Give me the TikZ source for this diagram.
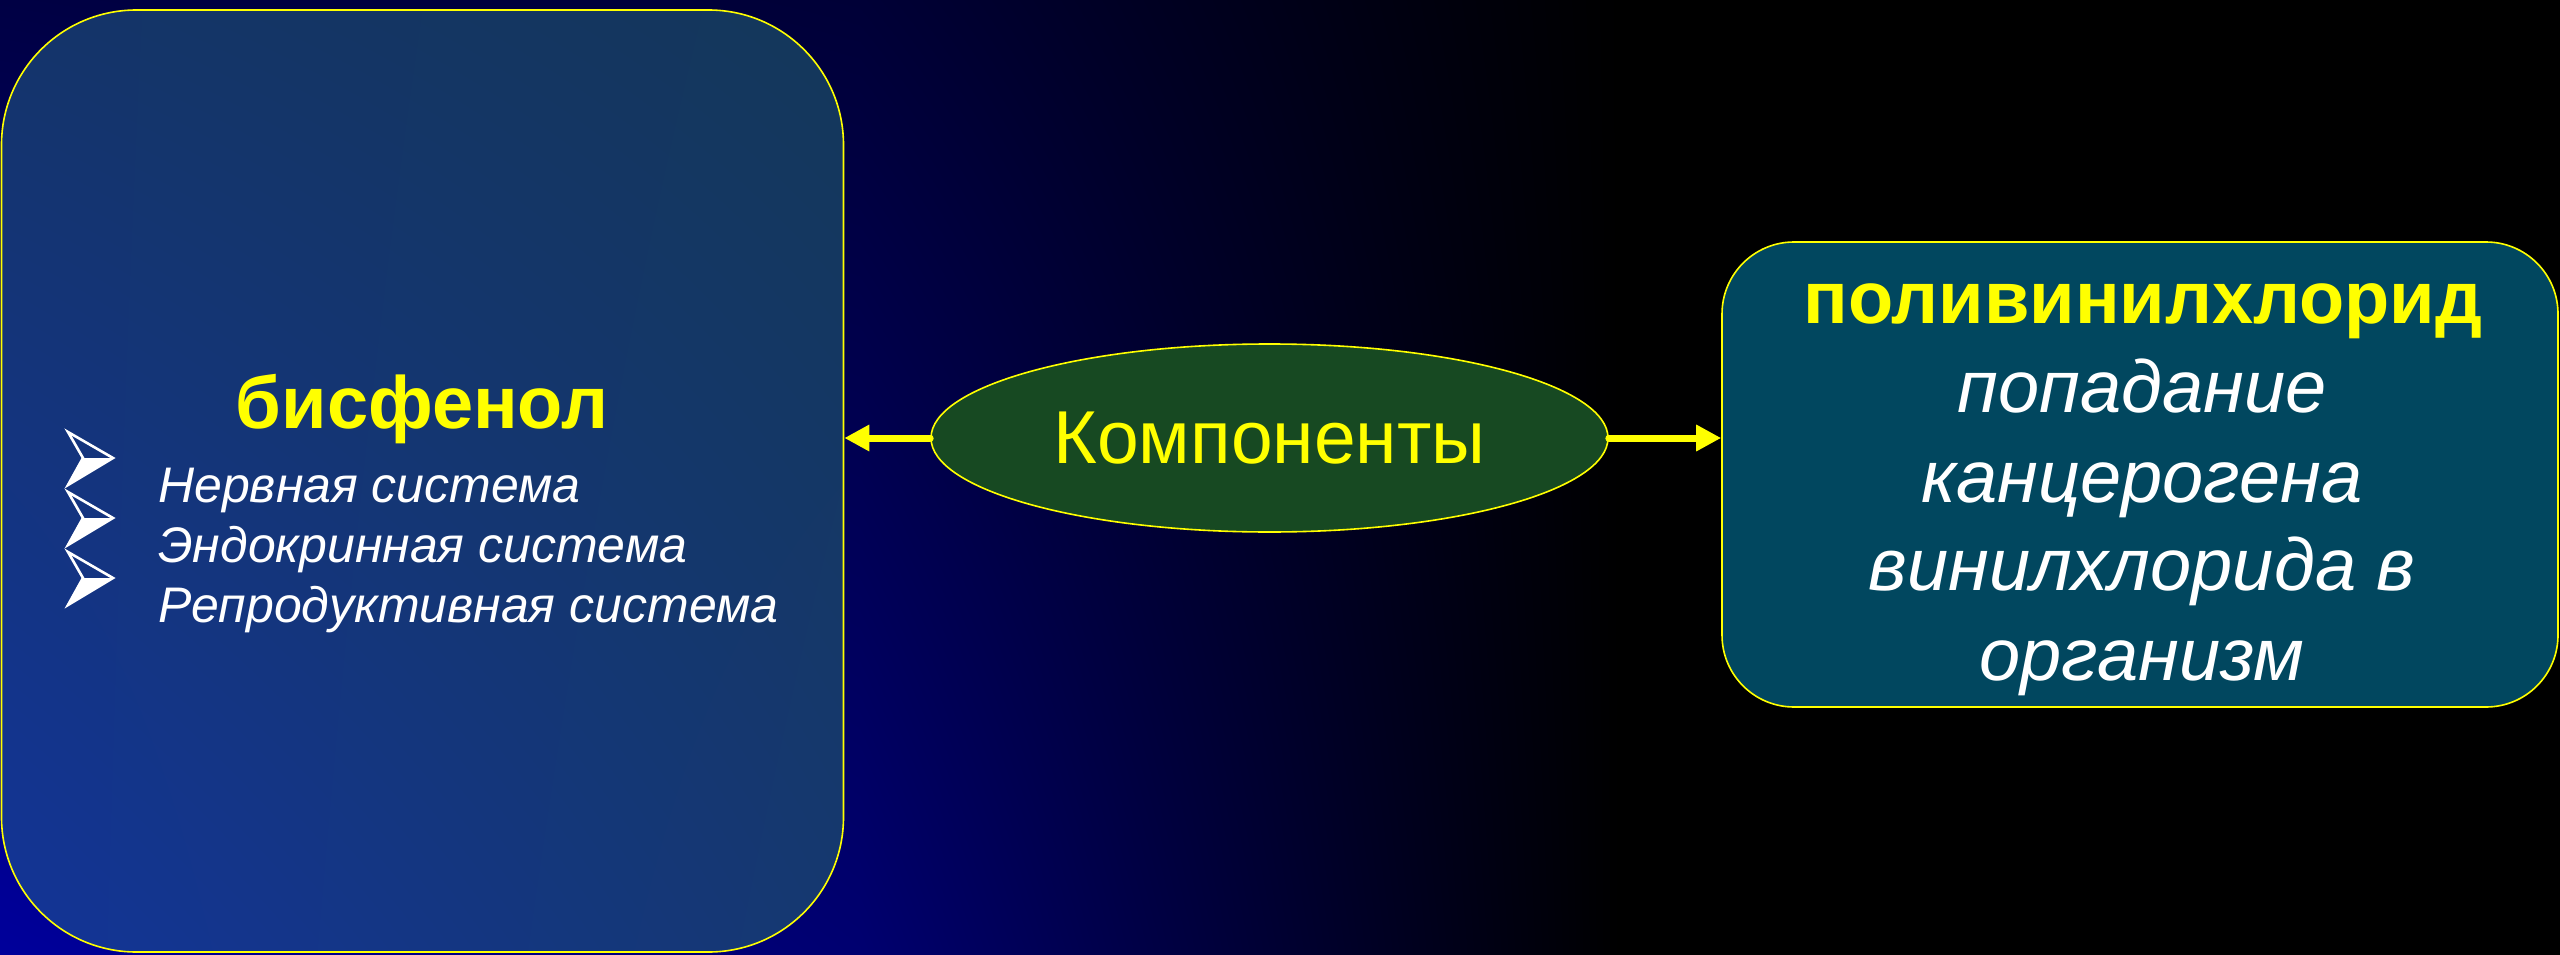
\documentclass[tikz,border=0pt]{standalone}
\usepackage{fontspec}
\setmainfont{Liberation Sans}
\usetikzlibrary{shapes.geometric,arrows.meta,shadings}

\definecolor{bgTL}{RGB}{0,0,68}
\definecolor{bgBL}{RGB}{0,0,155}
\definecolor{bgTM}{RGB}{0,0,55}
\definecolor{bgBM}{RGB}{0,0,112}
\definecolor{lbUL}{RGB}{20,52,106}
\definecolor{lbUR}{RGB}{20,55,90}
\definecolor{lbLL}{RGB}{19,52,152}
\definecolor{lbLR}{RGB}{21,56,112}
\definecolor{ellgreen}{RGB}{23,73,34}
\definecolor{pvcfill}{RGB}{1,71,95}
\definecolor{hilite}{RGB}{255,255,0}

\tikzset{
  frame/.style={draw=hilite, line width=1.6},
  link/.style={hilite, line width=7, line cap=round, -{Triangle[length=25pt,width=25pt]}},
  heading/.style={anchor=base, inner sep=0, text=hilite, font=\bfseries\fontsize{74}{80}\selectfont},
  item/.style={anchor=base west, inner sep=0, text=white, font=\itshape\fontsize{50}{60}\selectfont},
  line/.style={anchor=base, inner sep=0, text=white, font=\itshape\fontsize{74}{89}\selectfont},
  pics/pointer/.style={code={
    \fill[white] (15,26) -- (45,26) -- (0,53) -- cycle;
    \draw[white, line width=2.6, line join=miter] (0,0) -- (45,26) -- (0,53) -- (15,26) -- cycle;
  }}
}

\begin{document}
\begin{tikzpicture}[x=1pt,y=-1pt]
\useasboundingbox (0,0) rectangle (2560,955);

% background: blue at the lower left fading to black
\fill[black] (0,0) rectangle (2560,955);
\shade[upper left=bgTL, lower left=bgBL, upper right=bgTM, lower right=bgBM] (0,0) rectangle (860,955);
\shade[upper left=bgTM, lower left=bgBM, upper right=black, lower right=black] (860,0) rectangle (1620,955);

% left box
\node[frame, rounded corners=135, minimum width=842, minimum height=942, inner sep=0,
      upper left=lbUL, upper right=lbUR, lower left=lbLL, lower right=lbLR] (bis) at (422.5,481) {};
\node[heading] (bisT) at (422,428) {бисфенол};
\pic at (68,432) {pointer};
\pic at (68,492) {pointer};
\pic at (68,552) {pointer};
\node[item] (i1) at (158,502) {Нервная система};
\node[item] (i2) at (158,562) {Эндокринная система};
\node[item] (i3) at (158,622) {Репродуктивная система};

% centre ellipse
\node[ellipse, frame, fill=ellgreen, minimum width=677, minimum height=188, inner sep=0,
      text=hilite, font=\fontsize{75}{80}\selectfont] (comp) at (1269.5,438) {Компоненты};

% right box
\node[frame, rounded corners=72, fill=pvcfill, minimum width=836, minimum height=465, inner sep=0] (pvc) at (2140,474.5) {};
\node[heading] (pvcT) at (2143,323) {поливинилхлорид};
\node[line] (l1) at (2142,412) {попадание};
\node[line] (l2) at (2142,502) {канцерогена};
\node[line] (l3) at (2142,590) {винилхлорида в};
\node[line] (l4) at (2142,680) {организм};

% connectors
\draw[link] (comp.west) -- (bis.east |- comp.west);
\draw[link] (comp.east) -- (pvc.west |- comp.east);
\end{tikzpicture}
\end{document}
